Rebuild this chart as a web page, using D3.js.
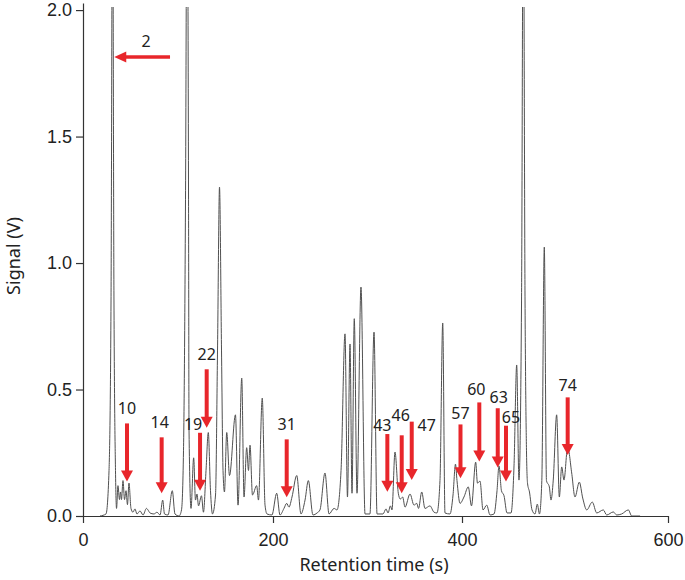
<!DOCTYPE html>
<html>
<head>
<meta charset="utf-8">
<script src="https://cdn.jsdelivr.net/npm/d3@7"></script>
<style>
  body { margin: 0; background: #fff; }
  svg { font-family: "Noto Sans", sans-serif; }
  .axis text { font-size: 18px; fill: #222; }
  .axis path, .axis line { stroke: #333; stroke-width: 1.2; }
</style>
</head>
<body>
<svg id="chart" width="685" height="580"></svg>
<script>
// chromatogram trace: retention time (s) and signal (V)
const traceTime = [
  17.9, 24.2, 27.4, 29.5, 31.1, 32.6, 34.2, 35.3, 36.8, 38.4, 39.5, 40.5, 42.1, 43.7, 45.3, 46.8, 48.4,
  50.5, 52.6, 54.7, 56.8, 60.0, 63.2, 66.8, 68.4, 70.5, 74.7, 77.9, 81.1, 83.9, 85.8, 89.5, 94.0, 96.8,
  101.1, 103.7, 105.8, 107.9, 109.5, 111.1, 111.6, 113.7, 116.5, 118.4, 120.0, 121.6, 124.7, 126.8,
  129.5, 131.9, 134.2, 136.3, 139.5, 141.6, 143.7, 145.8, 147.4, 148.9, 151.3, 154.2, 160.5, 163.2,
  167.1, 169.5, 172.3, 174.2, 175.8, 178.4, 182.8, 184.7, 188.7, 191.6, 193.7, 198.9,
  203.9, 207.4, 211.6, 214.5, 216.9, 220.1, 225.1, 229.6, 233.9, 237.4, 242.3, 246.6, 249.7, 255.0,
  259.3, 264.6, 267.7, 272.0, 276.2, 278.8, 281.5, 283.6, 286.0, 288.9, 293.1, 297.4, 302.6, 306.9,
  310.1, 316.4, 319.6, 321.7, 324.3, 325.9, 329.1, 332.6, 334.7, 337.2, 339.7, 345.0, 349.2, 352.1,
  354.0, 357.4, 360.8, 366.1, 370.4, 373.5, 376.7, 379.6, 382.0, 387.3, 390.5, 393.1, 394.7, 397.9,
  401.9, 406.1, 409.2, 413.3, 415.0, 417.5, 420.4, 424.0, 427.2, 431.1, 434.0, 435.9, 438.3, 440.8,
  443.7, 447.6, 450.5, 453.1, 455.3, 457.8, 459.5, 461.2, 462.6, 463.6, 465.5, 468.0, 470.9, 473.1,
  475.2, 477.5, 479.9, 482.0, 484.8, 486.4, 488.6, 491.9, 494.5, 496.8, 499.0, 502.6, 506.5, 509.7,
  513.9, 517.2, 521.1, 526.5, 530.8, 537.2, 540.5, 546.9, 550.2, 555.0, 561.5, 564.8, 572.9
];
const traceSignal = [
  0, 0.008, 0.18, 0.85, 2.6, 0.85, 0.18, 0.03, 0.12, 0.065, 0.095, 0.065, 0.14, 0.065, 0.10, 0.045, 0.13,
  0.03, 0.015, 0.028, 0.008, 0.02, 0.004, 0.03, 0.024, 0.012, 0.008, 0.015, 0.004, 0.063, 0.008, 0.004, 0.10, 0.008,
  0, 0.024, 0.26, 1.25, 2.6, 1.25, 0.34, 0.03, 0.23, 0.063, 0.087, 0.04, 0.08, 0.015,
  0.18, 0.33, 0.10, 0.008, 0.083, 0.656, 1.30, 0.656, 0.18, 0.095, 0.33, 0.16, 0.40, 0.043,
  0.545, 0.075, 0.27, 0.18, 0.28, 0.083, 0.12, 0.063, 0.466, 0.043, 0.008, 0.004,
  0.09, 0.004, 0.03, 0.05, 0.035, 0.075, 0.16, 0.008, 0.063, 0.14, 0.004, 0.012, 0.024, 0.17,
  0.008, 0.03, 0.024, 0.18, 0.72, 0.075, 0.68, 0.09, 0.78, 0.09, 0.905, 0.008, 0.008, 0.727,
  0.008, 0.008, 0.028, 0.012, 0.04, 0.024, 0.253, 0.09, 0.067, 0.075, 0.035, 0.087, 0.043, 0.05,
  0.03, 0.095, 0.03, 0.04, 0.015, 0.012, 0.14, 0.763, 0.012, 0.008, 0.083, 0.205, 0.14, 0.05,
  0.075, 0.115, 0.04, 0.213, 0.13, 0.138, 0.024, 0.043, 0.004, 0.008, 0.10, 0.198, 0.10, 0.08,
  0.012, 0.012, 0.198, 0.597, 0.142, 0.85, 2.6, 0.85, 0.26, 0.13, 0.095, 0.024, 0.008, 0.047,
  0.008, 0.14, 1.063, 0.14, 0.115, 0.063, 0.142, 0.40, 0.075, 0.194, 0.142, 0.273, 0.17, 0.075,
  0.134, 0.071, 0.024, 0.055, 0.012, 0.024, 0.004, 0.016, 0.004, 0.008, 0.024, 0, 0
];

// annotated peaks (vertical arrows)
const peakLabels = ["10", "14", "19", "22", "31", "43", "46", "47", "57", "60", "63", "65", "74"];
const peakTimes = [46.3, 82.8, 123.2, 130.2, 214.5, 321.0, 336.2, 346.8, 398.4, 416.8, 434.7, 442.7, 502.6];
const arrowTip = [0.136, 0.090, 0.100, 0.349, 0.074, 0.096, 0.090, 0.142, 0.149, 0.215, 0.192, 0.136, 0.241];
const arrowTail = [0.366, 0.311, 0.329, 0.580, 0.303, 0.324, 0.319, 0.373, 0.362, 0.449, 0.426, 0.357, 0.469];

// peak 2 (horizontal arrow)
const peak2Label = "2";
const peak2TipTime = 32.9;
const peak2TailTime = 91.6;
const peak2Signal = 1.815;

const xTicks = [0, 200, 400, 600];
const yTicks = [0, 0.5, 1.0, 1.5, 2.0];

// label nudges so crowded numbers don't collide (px, relative to arrow tail)
const labelNudge = [
  [0, -9], [-2, -9], [-7, -3], [0, -9], [0, -9], [-5, -3], [-1, -14],
  [15, 9], [0, -5], [-3, -7], [1, -5], [5, -3], [0, -6]
];

const RED = "#e8262b";

const svg = d3.select("#chart");

// figure axis is slightly uneven, so keep the tick positions from the picture
const x = d3.scaleLinear().domain([0, 200, 400, 600]).range([83, 273, 462, 668]);
const y = d3.scaleLinear().domain([0, 2.028]).range([516, 3]);

svg.append("defs").append("clipPath").attr("id", "plot-clip")
  .append("rect")
  .attr("x", 83).attr("y", 7)
  .attr("width", 668 - 83).attr("height", 516 - 7);

const trace = traceTime.map((t, i) => [t, traceSignal[i]]);

const line = d3.line()
  .x((d) => x(d[0]))
  .y((d) => y(d[1]))
  .curve(d3.curveMonotoneX);

svg.append("path")
  .datum(trace)
  .attr("clip-path", "url(#plot-clip)")
  .attr("fill", "none")
  .attr("stroke", "#505050")
  .attr("stroke-width", 1)
  .attr("stroke-linejoin", "round")
  .attr("d", line);

// axes
svg.append("g")
  .attr("class", "axis")
  .attr("transform", "translate(0,516)")
  .call(d3.axisBottom(x).tickValues(xTicks).tickSize(7).tickSizeOuter(0).tickPadding(10));

svg.append("g")
  .attr("class", "axis")
  .attr("transform", "translate(83,0)")
  .call(d3.axisLeft(y).tickValues(yTicks).tickFormat(d3.format(".1f")).tickSize(7).tickSizeOuter(0).tickPadding(4));

svg.append("text")
  .attr("x", 374).attr("y", 571)
  .attr("text-anchor", "middle")
  .attr("font-size", 18).attr("fill", "#222")
  .text("Retention time (s)");

svg.append("text")
  .attr("transform", "translate(20,256) rotate(-90)")
  .attr("text-anchor", "middle")
  .attr("font-size", 18).attr("fill", "#222")
  .text("Signal (V)");

// vertical arrows
const arrows = svg.append("g").attr("class", "arrows");
const HEAD_LEN = 11;
const HEAD_HALF = 6;

peakLabels.forEach((lab, i) => {
  const ax = x(peakTimes[i]);
  const tipY = y(arrowTip[i]);
  const tailY = y(arrowTail[i]);
  const g = arrows.append("g");
  g.append("line")
    .attr("x1", ax).attr("x2", ax)
    .attr("y1", tailY).attr("y2", tipY - HEAD_LEN + 1)
    .attr("stroke", RED).attr("stroke-width", 4);
  g.append("path")
    .attr("d", `M${ax - HEAD_HALF},${tipY - HEAD_LEN}L${ax + HEAD_HALF},${tipY - HEAD_LEN}L${ax},${tipY}Z`)
    .attr("fill", RED);
  g.append("text")
    .attr("x", ax + labelNudge[i][0])
    .attr("y", tailY + labelNudge[i][1])
    .attr("text-anchor", "middle")
    .attr("font-size", 16).attr("fill", "#222")
    .text(lab);
});

// horizontal arrow for peak 2
{
  const tipX = x(peak2TipTime);
  const tailX = x(peak2TailTime);
  const ay = y(peak2Signal);
  arrows.append("line")
    .attr("x1", tailX).attr("x2", tipX + HEAD_LEN - 1)
    .attr("y1", ay).attr("y2", ay)
    .attr("stroke", RED).attr("stroke-width", 3.5);
  arrows.append("path")
    .attr("d", `M${tipX + HEAD_LEN + 1},${ay - 5.5}L${tipX + HEAD_LEN + 1},${ay + 5.5}L${tipX},${ay}Z`)
    .attr("fill", RED);
  arrows.append("text")
    .attr("x", tailX - 24).attr("y", ay - 10)
    .attr("text-anchor", "middle")
    .attr("font-size", 16).attr("fill", "#222")
    .text(peak2Label);
}
</script>
</body>
</html>
